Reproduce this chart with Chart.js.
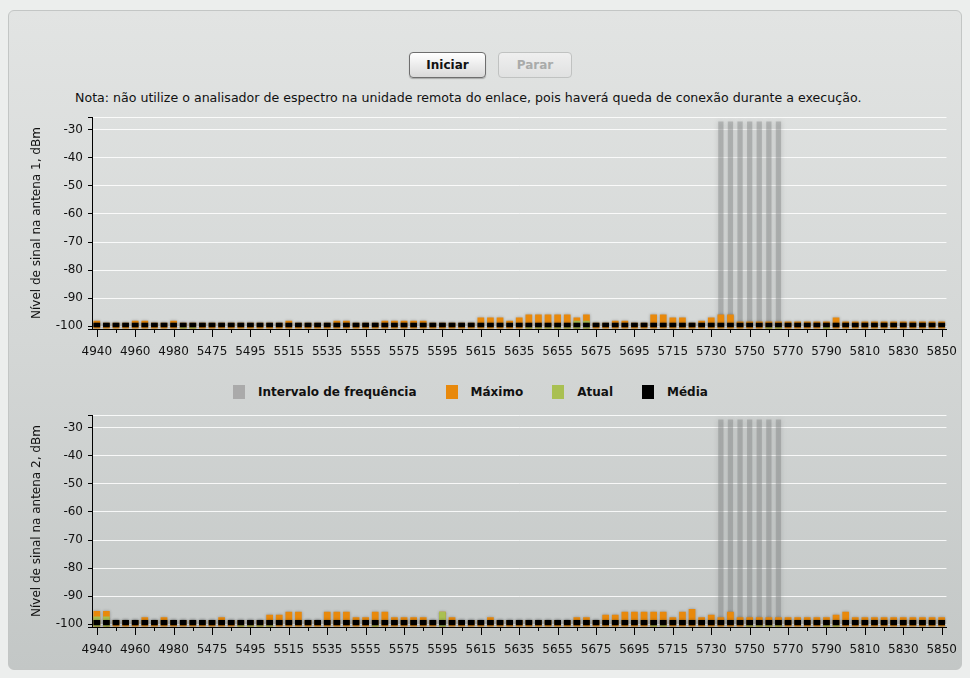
<!DOCTYPE html>
<html>
<head>
<meta charset="utf-8">
<title>Analisador de espectro</title>
<script src="https://cdn.jsdelivr.net/npm/chart.js@4.4.1/dist/chart.umd.min.js"></script>
<style>
  html, body { margin: 0; padding: 0; }
  body {
    width: 970px; height: 678px; position: relative; overflow: hidden;
    background: #eceeed; font-family: "DejaVu Sans", sans-serif; color: #111;
  }
  .panel {
    position: absolute; left: 8px; top: 10px; width: 952px; height: 658px;
    border: 1px solid #c3c6c5; border-radius: 6px;
    background: linear-gradient(#e2e4e3, #d4d7d6 50%, #c3c7c6);
  }
  .btn {
    position: absolute; top: 52px; height: 26px; box-sizing: border-box;
    border-radius: 4px; font: bold 12px "DejaVu Sans", sans-serif;
    text-align: center; line-height: 24px;
  }
  #start {
    left: 409px; width: 77px; border: 1px solid #6e6e6e; color: #111;
    background: linear-gradient(#ffffff, #d9d9d9);
    box-shadow: 0 1px 1px rgba(0,0,0,0.25);
  }
  #stop {
    left: 498px; width: 74px; border: 1px solid #c0c2c1; color: #a9abaa;
    background: linear-gradient(#efefef, #e0e1e1);
  }
  .note { position: absolute; left: 75px; top: 90px; font-size: 12.6px; white-space: nowrap; }
  canvas { position: absolute; left: 10px; }
  #c1 { top: 105px; }
  #c2 { top: 403px; }
  .legend {
    position: absolute; left: 233px; top: 385px; display: flex; align-items: center;
    font: bold 12px "DejaVu Sans", sans-serif; color: #111; white-space: nowrap;
  }
  .legend span { display: flex; align-items: center; margin-right: 29px; }
  .legend i { display: inline-block; width: 12px; height: 14px; margin-right: 13px; }
</style>
</head>
<body>
<div class="panel"></div>
<div class="btn" id="start">Iniciar</div>
<div class="btn" id="stop">Parar</div>
<div class="note">Nota: não utilize o analisador de espectro na unidade remota do enlace, pois haverá queda de conexão durante a execução.</div>
<canvas id="c1" width="950" height="261"></canvas>
<div class="legend" id="legend"></div>
<canvas id="c2" width="950" height="261"></canvas>

<script>
// channel frequencies (MHz), one bar per channel, label on every 4th
const freqs = [
  4940, 4945, 4950, 4955,
  4960, 4965, 4970, 4975,
  4980, 4985, 4990, 5470,
  5475, 5480, 5485, 5490,
  5495, 5500, 5505, 5510,
  5515, 5520, 5525, 5530,
  5535, 5540, 5545, 5550,
  5555, 5560, 5565, 5570,
  5575, 5580, 5585, 5590,
  5595, 5600, 5605, 5610,
  5615, 5620, 5625, 5630,
  5635, 5640, 5645, 5650,
  5655, 5660, 5665, 5670,
  5675, 5680, 5685, 5690,
  5695, 5700, 5705, 5710,
  5715, 5720, 5725, 5728,
  5730, 5735, 5740, 5745,
  5750, 5755, 5760, 5765,
  5770, 5775, 5780, 5785,
  5790, 5795, 5800, 5805,
  5810, 5815, 5820, 5825,
  5830, 5835, 5840, 5845,
  5850
];

// frequency interval (grey bars)
const intervalFreqs = [5735, 5740, 5745, 5750, 5755, 5760, 5765];
const intervalTop = -27;

// antenna 1 (dBm)
const ant1Max = [
  -98.1, -98.8, -98.8, -98.8,
  -98.1, -98.1, -98.8, -98.8,
  -98.1, -98.8, -98.8, -98.8,
  -98.8, -98.8, -98.8, -98.8,
  -98.8, -98.8, -98.8, -98.8,
  -98.1, -98.8, -98.8, -98.8,
  -98.8, -98.1, -98.1, -98.8,
  -98.8, -98.8, -98.1, -98.1,
  -98.1, -98.1, -98.1, -98.8,
  -98.8, -98.8, -98.8, -98.8,
  -96.9, -96.9, -96.9, -98.1,
  -96.9, -95.8, -95.8, -95.8,
  -95.8, -95.8, -96.9, -95.8,
  -98.8, -98.8, -98.1, -98.1,
  -98.8, -98.8, -95.8, -95.8,
  -96.9, -96.9, -98.8, -98.1,
  -96.9, -95.8, -95.8, -98.3,
  -98.3, -98.3, -98.3, -98.3,
  -98.3, -98.3, -98.3, -98.3,
  -98.3, -96.9, -98.3, -98.3,
  -98.3, -98.3, -98.3, -98.3,
  -98.3, -98.3, -98.3, -98.3,
  -98.3
];
const ant1Cur = [
  null, null, null, null,
  null, null, null, null,
  null, -100.4, -100.4, null,
  null, null, null, null,
  null, null, null, null,
  null, null, null, null,
  null, null, null, null,
  null, null, null, null,
  null, null, null, null,
  null, null, null, null,
  null, null, null, null,
  null, -100.4, -100.4, -100.4,
  -100.4, -100.4, -98.1, -98.1,
  null, null, null, null,
  null, null, null, null,
  null, null, null, null,
  null, null, null, null,
  null, null, -100.4, -100.4,
  null, null, null, null,
  -100.4, null, null, null,
  null, null, null, null,
  null, null, null, null,
  null
];
const ant1Avg = [
  -98.8, -98.8, -98.8, -98.8, -98.8, -98.8, -98.8, -98.8,
  -98.8, -98.8, -98.8, -98.8, -98.8, -98.8, -98.8, -98.8,
  -98.8, -98.8, -98.8, -98.8, -98.8, -98.8, -98.8, -98.8,
  -98.8, -98.8, -98.8, -98.8, -98.8, -98.8, -98.8, -98.8,
  -98.8, -98.8, -98.8, -98.8, -98.8, -98.8, -98.8, -98.8,
  -98.8, -98.8, -98.8, -98.8, -98.8, -98.8, -98.8, -98.8,
  -98.8, -98.8, -98.8, -98.8, -98.8, -98.8, -98.8, -98.8,
  -98.8, -98.8, -98.8, -98.8, -98.8, -98.8, -98.8, -98.8,
  -98.8, -98.8, -98.8, -98.8, -98.8, -98.8, -98.8, -98.8,
  -98.8, -98.8, -98.8, -98.8, -98.8, -98.8, -98.8, -98.8,
  -98.8, -98.8, -98.8, -98.8, -98.8, -98.8, -98.8, -98.8,
  -98.8
];

// antenna 2 (dBm)
const ant2Max = [
  -95.3, -95.3, -98.5, -98.5,
  -98.5, -97.5, -98.5, -97.5,
  -98.5, -98.5, -98.5, -98.5,
  -98.5, -97.5, -98.5, -98.5,
  -98.5, -98.5, -96.6, -96.6,
  -95.6, -95.6, -98.5, -98.5,
  -95.6, -95.6, -95.6, -97.5,
  -97.5, -95.6, -95.6, -97.5,
  -97.5, -97.5, -97.5, -98.5,
  -95.6, -97.5, -98.5, -98.5,
  -98.5, -97.5, -98.5, -98.5,
  -98.5, -98.5, -98.5, -98.5,
  -98.5, -98.5, -97.5, -97.5,
  -98.5, -96.6, -96.6, -95.6,
  -95.6, -95.6, -95.6, -95.6,
  -97.5, -95.6, -94.6, -97.5,
  -96.6, -97.5, -95.6, -97.5,
  -97.5, -97.5, -97.5, -97.5,
  -97.5, -97.5, -97.5, -97.5,
  -97.5, -96.6, -95.6, -97.5,
  -97.5, -97.5, -97.5, -97.5,
  -97.5, -97.5, -97.5, -97.5,
  -97.5
];
const ant2Cur = [
  -97.3, -97.3, null, null,
  null, null, null, null,
  null, null, null, null,
  null, null, null, -100.4,
  -100.4, -100.4, -100.4, null,
  null, null, null, null,
  null, null, null, null,
  null, -100.4, null, null,
  null, null, null, null,
  -95.6, null, null, null,
  null, null, null, null,
  null, null, null, null,
  null, null, null, null,
  null, null, null, null,
  null, null, -100.4, -100.4,
  null, null, null, null,
  null, null, null, null,
  -100.4, -100.4, -100.4, -100.4,
  null, null, null, null,
  -100.4, -100.4, null, null,
  null, null, null, null,
  null, null, null, null,
  null
];
const ant2Avg = [
  -98.5, -98.5, -98.5, -98.5, -98.5, -98.5, -98.5, -98.5,
  -98.5, -98.5, -98.5, -98.5, -98.5, -98.5, -98.5, -98.5,
  -98.5, -98.5, -98.5, -98.5, -98.5, -98.5, -98.5, -98.5,
  -98.5, -98.5, -98.5, -98.5, -98.5, -98.5, -98.5, -98.5,
  -98.5, -98.5, -98.5, -98.5, -98.5, -98.5, -98.5, -98.5,
  -98.5, -98.5, -98.5, -98.5, -98.5, -98.5, -98.5, -98.5,
  -98.5, -98.5, -98.5, -98.5, -98.5, -98.5, -98.5, -98.5,
  -98.5, -98.5, -98.5, -98.5, -98.5, -98.5, -98.5, -98.5,
  -98.5, -98.5, -98.5, -98.5, -98.5, -98.5, -98.5, -98.5,
  -98.5, -98.5, -98.5, -98.5, -98.5, -98.5, -98.5, -98.5,
  -98.5, -98.5, -98.5, -98.5, -98.5, -98.5, -98.5, -98.5,
  -98.5
];

// y axis
const yTicks = [-100, -90, -80, -70, -60, -50, -40, -30];
const yMin = -101;
const yMax = -25.5;
const avgBase = -100.4;

const seriesNames = ['Intervalo de frequência', 'Máximo', 'Atual', 'Média'];
const seriesColors = ['#aaaaaa', '#e8890c', '#a9c052', '#000000'];

// legend between the two charts
const legendEl = document.getElementById('legend');
seriesNames.forEach((name, i) => {
  const item = document.createElement('span');
  const box = document.createElement('i');
  box.style.background = seriesColors[i];
  item.appendChild(box);
  item.appendChild(document.createTextNode(name));
  legendEl.appendChild(item);
});

// soft shadow like the original bars
const barShadow = {
  id: 'barShadow',
  beforeDatasetDraw(chart, args) {
    const ds = chart.data.datasets[args.index];
    chart.ctx.save();
    chart.ctx.shadowColor = ds.shadowColor;
    chart.ctx.shadowBlur = ds.shadowBlur;
  },
  afterDatasetDraw(chart) {
    chart.ctx.restore();
  }
};

// long tick under every label, short tick half way
const xTickMarks = {
  id: 'xTickMarks',
  afterDraw(chart) {
    const x = chart.scales.x;
    const ctx = chart.ctx;
    ctx.save();
    ctx.strokeStyle = '#000';
    ctx.lineWidth = 1;
    ctx.beginPath();
    freqs.forEach((f, i) => {
      if (i % 2) return;
      const px = Math.round(x.getPixelForValue(i)) + 0.5;
      ctx.moveTo(px, x.top);
      ctx.lineTo(px, x.top + (i % 4 === 0 ? 8 : 4));
    });
    ctx.stroke();
    ctx.restore();
  }
};

function makeChart(id, maxData, curData, avgData, title) {
  const intervalData = freqs.map(f => intervalFreqs.includes(f) ? intervalTop : null);
  const common = {
    grouped: false,
    barPercentage: 0.7,
    categoryPercentage: 1,
    borderWidth: 0
  };
  return new Chart(document.getElementById(id), {
    type: 'bar',
    data: {
      labels: freqs,
      datasets: [
        Object.assign({}, common, {
          label: seriesNames[0], data: intervalData, base: yMin, order: 4,
          barPercentage: 0.55,
          backgroundColor: 'rgba(125,127,127,0.4)',
          shadowColor: 'rgba(125,127,127,0.75)', shadowBlur: 5
        }),
        Object.assign({}, common, {
          label: seriesNames[1], data: maxData, base: yMin, order: 3,
          backgroundColor: seriesColors[1],
          shadowColor: 'rgba(0,0,0,0.3)', shadowBlur: 3
        }),
        Object.assign({}, common, {
          label: seriesNames[2], data: curData, base: yMin, order: 2,
          backgroundColor: seriesColors[2],
          shadowColor: 'rgba(0,0,0,0.2)', shadowBlur: 1
        }),
        Object.assign({}, common, {
          label: seriesNames[3], data: avgData, base: avgBase, order: 1,
          backgroundColor: seriesColors[3],
          shadowColor: 'rgba(0,0,0,0.4)', shadowBlur: 3
        })
      ]
    },
    options: {
      responsive: false,
      animation: false,
      events: [],
      layout: { padding: { left: 16, top: 0, right: 11, bottom: 0 } },
      plugins: {
        legend: { display: false },
        tooltip: { enabled: false }
      },
      scales: {
        x: {
          offset: true,
          grid: { display: false, drawTicks: true, tickLength: 13 },
          border: { display: true, color: '#000', width: 1 },
          ticks: {
            autoSkip: false,
            maxRotation: 0,
            minRotation: 0,
            padding: 3,
            color: '#111',
            font: { family: 'DejaVu Sans', size: 12 },
            callback: function (v, i) {
              return i % 4 === 0 ? String(freqs[i]) : '';
            }
          },
          afterFit: s => { s.height = 37; }
        },
        y: {
          min: yMin,
          max: yMax,
          afterBuildTicks: s => {
            s.ticks = [yMin].concat(yTicks, [yMax]).map(v => ({ value: v }));
          },
          afterFit: s => { s.width = 66; },
          grid: {
            color: 'rgba(255,255,255,0.85)',
            lineWidth: 1,
            tickColor: '#000',
            tickLength: 4
          },
          border: { display: true, color: '#000', width: 1 },
          ticks: {
            padding: 5,
            color: '#111',
            font: { family: 'DejaVu Sans', size: 12 },
            callback: v => yTicks.includes(v) ? String(v) : ''
          },
          title: {
            display: true,
            text: title,
            color: '#111',
            font: { family: 'DejaVu Sans', size: 12 }
          }
        }
      }
    },
    plugins: [barShadow, xTickMarks]
  });
}

makeChart('c1', ant1Max, ant1Cur, ant1Avg, 'Nível de sinal na antena 1, dBm');
makeChart('c2', ant2Max, ant2Cur, ant2Avg, 'Nível de sinal na antena 2, dBm');
</script>
</body>
</html>
